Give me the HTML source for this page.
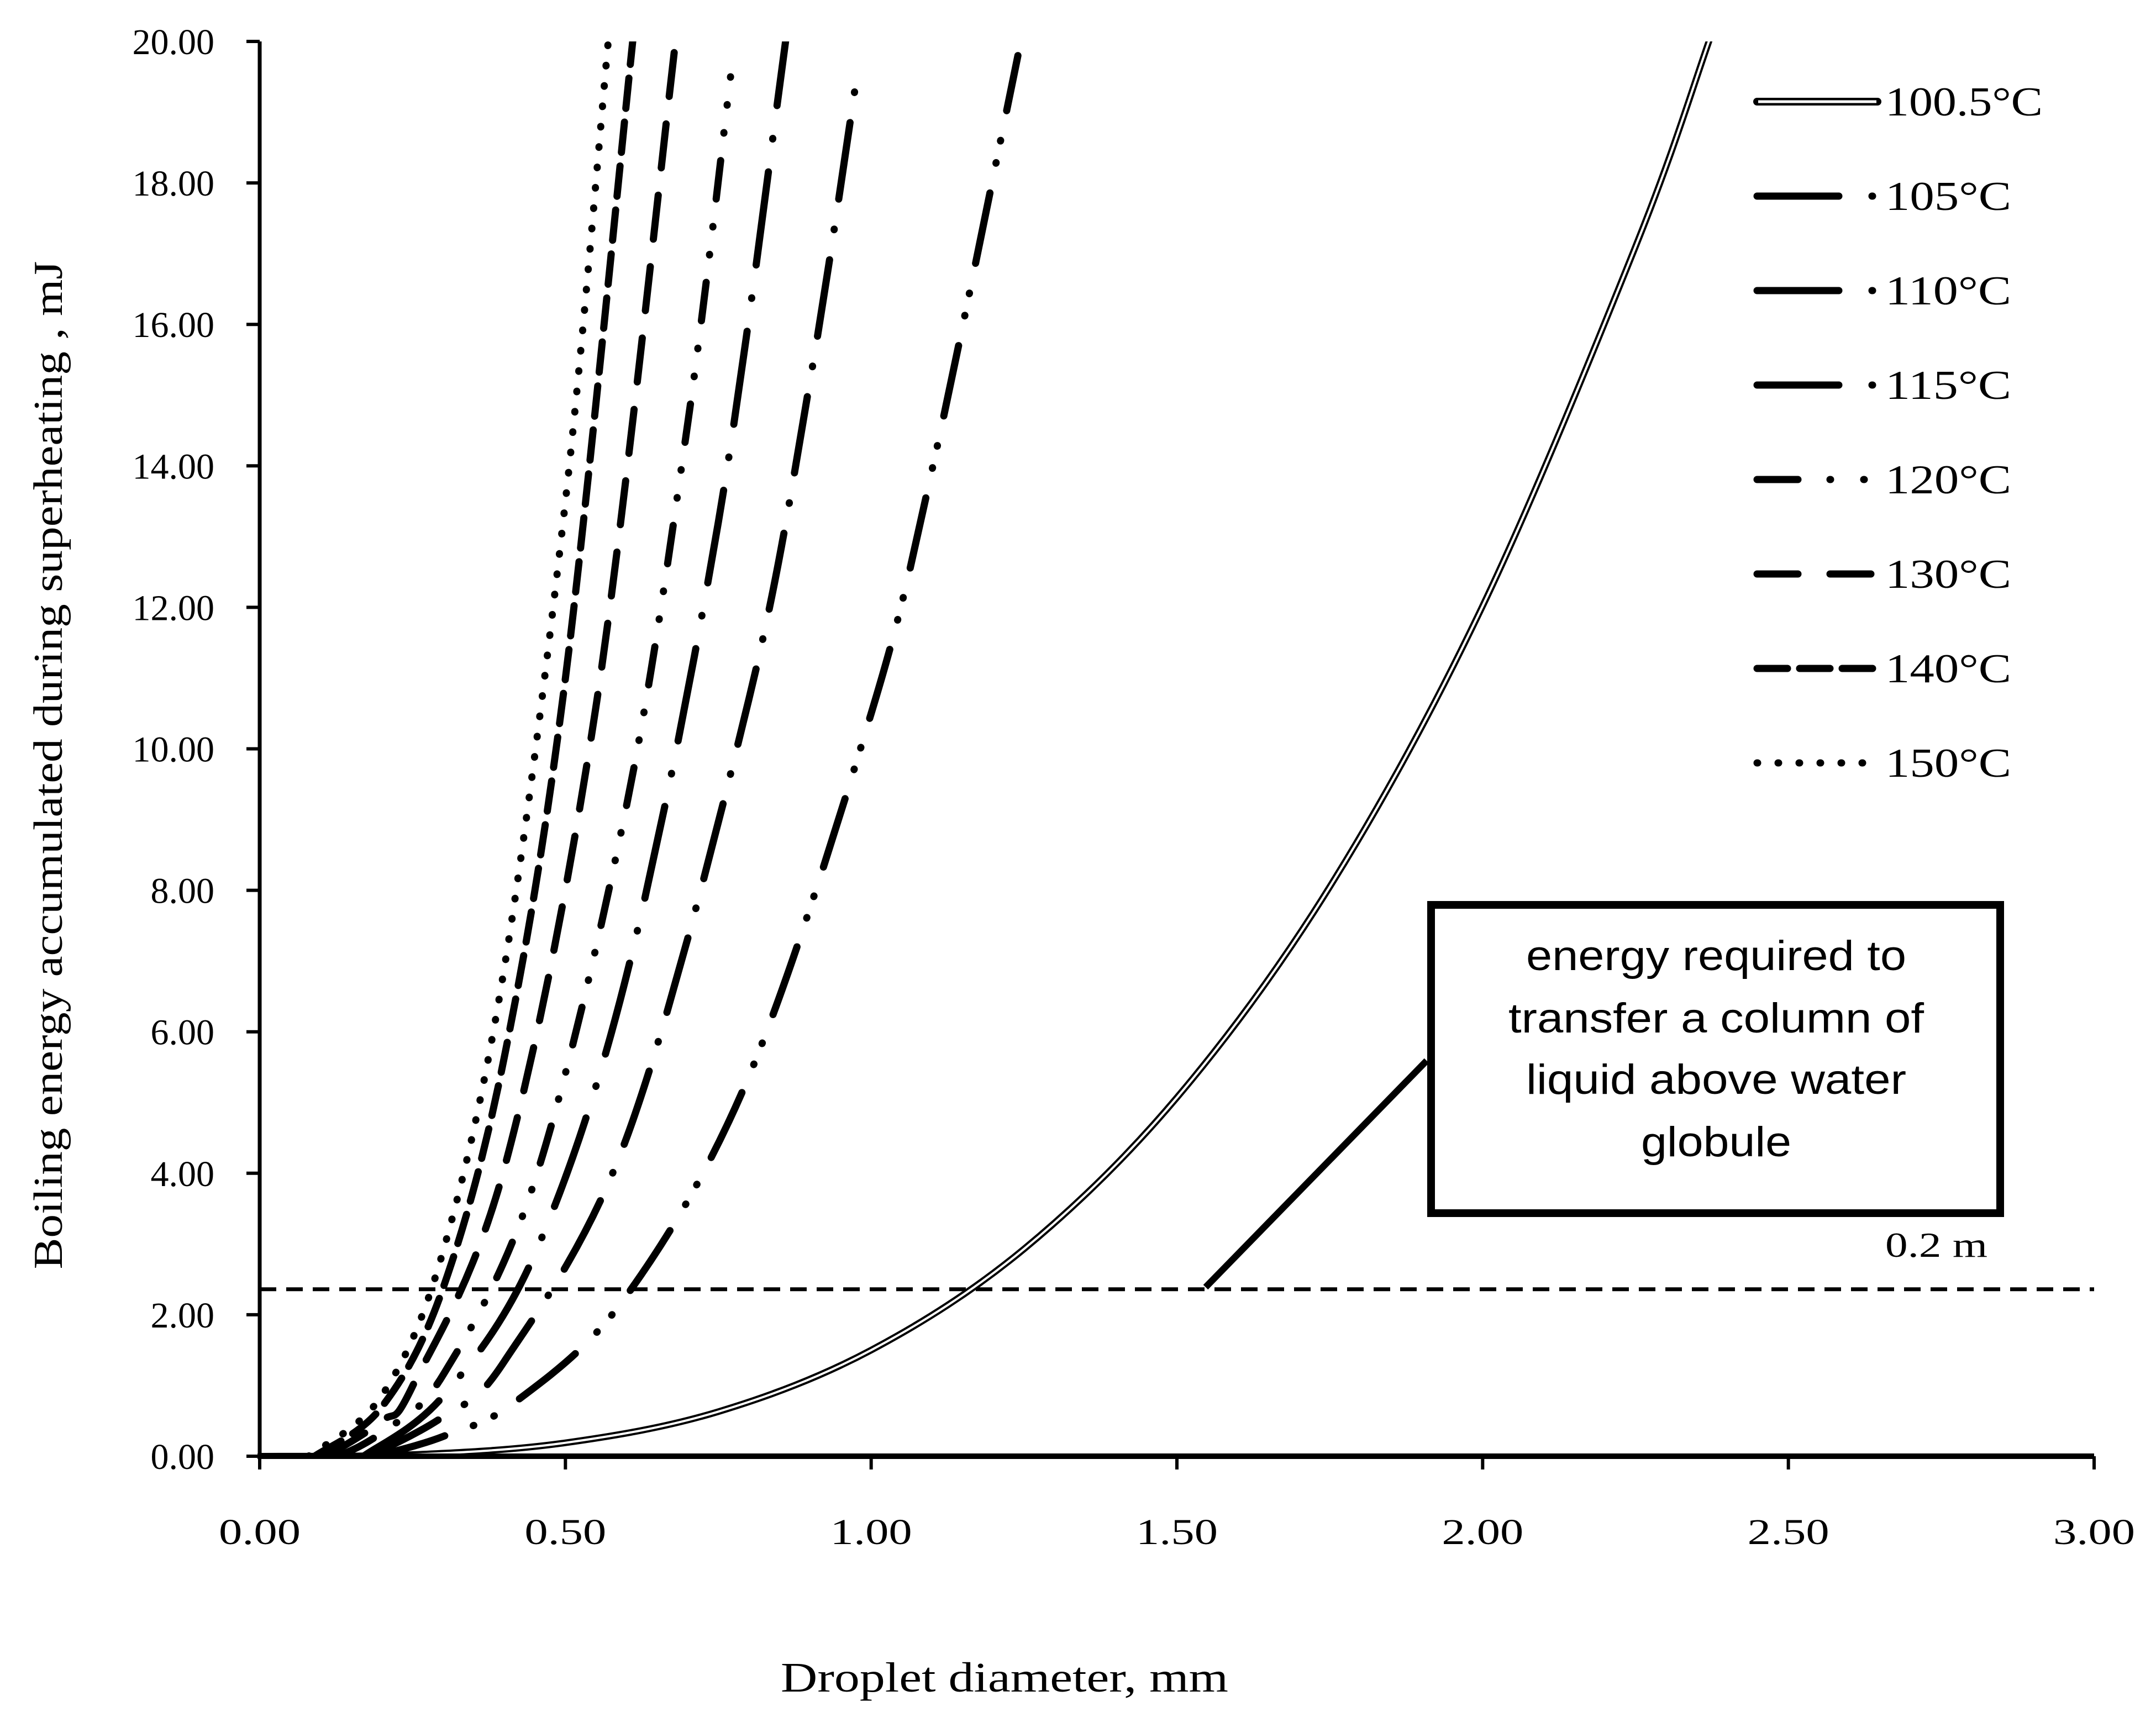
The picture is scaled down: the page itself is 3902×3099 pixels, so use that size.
<!DOCTYPE html>
<html><head><meta charset="utf-8"><style>
html,body{margin:0;padding:0;background:#fff}
svg{display:block}
text{font-family:"Liberation Serif",serif;fill:#000}
</style></head><body>
<svg id="chart" xmlns="http://www.w3.org/2000/svg" width="3902" height="3099" viewBox="0 0 3902 3099">
<defs><clipPath id="plotclip"><rect x="470" y="75" width="3322" height="2562"/></clipPath></defs>
<g id="curves" clip-path="url(#plotclip)"></g>
<g id="axes"></g>
<g id="legend"></g>
<g>
<line x1="2182" y1="2330" x2="2582" y2="1920" stroke="#000" stroke-width="12"/>
<rect x="2590" y="1638" width="1030" height="558" fill="#fff" stroke="#000" stroke-width="14"/>
<g font-size="76" text-anchor="middle">
<text x="3106" y="1756" textLength="688" lengthAdjust="spacingAndGlyphs" style="font-family:'Liberation Sans',sans-serif">energy required to</text>
<text x="3106" y="1869" textLength="752" lengthAdjust="spacingAndGlyphs" style="font-family:'Liberation Sans',sans-serif">transfer a column of</text>
<text x="3106" y="1980" textLength="688" lengthAdjust="spacingAndGlyphs" style="font-family:'Liberation Sans',sans-serif">liquid above water</text>
<text x="3106" y="2093" textLength="272" lengthAdjust="spacingAndGlyphs" style="font-family:'Liberation Sans',sans-serif">globule</text>
</g>
<text x="3412" y="2275" font-size="64" textLength="185" lengthAdjust="spacingAndGlyphs">0.2 m</text>
</g>
<text x="1818" y="3062" font-size="76" text-anchor="middle" textLength="810" lengthAdjust="spacingAndGlyphs">Droplet diameter, mm</text>
<text transform="translate(112,1385) rotate(-90)" font-size="74" text-anchor="middle" textLength="1825" lengthAdjust="spacingAndGlyphs">Boiling energy accumulated during superheating , mJ</text>
</svg>
<script>
const xTicks=[0,0.5,1,1.5,2,2.5,3];
const yTicks=[0,2,4,6,8,10,12,14,16,18,20];
const refEnergy=2.36;
const seriesNames=["100.5°C","105°C","110°C","115°C","120°C","130°C","140°C","150°C"];
const d1005=[0,0.25,0.5,0.75,1.0,1.25,1.5,1.75,2.0,2.25,2.37,2.45];
const e1005=[0,0.023,0.19,0.63,1.50,2.93,5.07,8.05,12.02,17.1,20,22.1];
const d105=[0.19,0.3,0.42,0.6,0.8,1.0,1.1,1.24];
const e105=[0.0,0.28,0.78,2.27,5.37,10.5,13.96,19.8];
const d110=[0.18,0.3,0.4,0.6,0.8,0.9,0.98];
const e110=[0.0,0.56,1.34,4.5,10.7,15.2,19.7];
const d115=[0.17,0.3,0.45,0.6,0.75,0.86];
const e115=[0.0,0.85,2.86,6.8,13.2,20];
const d120=[0.13,0.2,0.3,0.45,0.6,0.7,0.77];
const e120=[0.0,0.34,1.15,3.9,9.2,14.6,19.5];
const d130=[0.11,0.2,0.25,0.4,0.55,0.68];
const e130=[0.0,0.5,0.99,4.07,10.6,20];
const d140=[0.09,0.2,0.3,0.4,0.5,0.61];
const e140=[0.0,0.7,2.38,5.64,11.0,20];
const d150=[0.08,0.2,0.3,0.4,0.5,0.57];
const e150=[0.0,0.86,2.9,6.9,13.5,20];

const X0=470,X1=3790,Y0=2636,Y1=75;
const sx=v=>X0+(X1-X0)*v/3;
const sy=v=>Y0-(Y0-Y1)*v/20;
const NS="http://www.w3.org/2000/svg";
function mk(tag,attrs,parent){const el=document.createElementNS(NS,tag);for(const k in attrs)el.setAttribute(k,attrs[k]);parent.appendChild(el);return el;}
const curves=document.getElementById('curves'),axes=document.getElementById('axes'),legend=document.getElementById('legend');
document.querySelector('#plotclip rect').setAttribute('width',X1-X0+4);
document.querySelector('#plotclip rect').setAttribute('height',Y0-Y1+2);
function smooth(ds,es){
  const p=ds.map((d,i)=>[sx(d),sy(es[i])]);
  let s="M"+p[0][0]+","+p[0][1];
  for(let i=0;i<p.length-1;i++){
    const a=p[Math.max(0,i-1)],b=p[i],c=p[i+1],d=p[Math.min(p.length-1,i+2)];
    s+=" C"+(b[0]+(c[0]-a[0])/6)+","+(b[1]+(c[1]-a[1])/6)+" "+(c[0]-(d[0]-b[0])/6)+","+(c[1]-(d[1]-b[1])/6)+" "+c[0]+","+c[1];
  }
  return s;
}
const allD=[d1005,d105,d110,d115,d120,d130,d140,d150];
const allE=[e1005,e105,e110,e115,e120,e130,e140,e150];
const dashes=[null,"130 55 1 40 1 55","140 55 1 55","170 60 1 60","70 50 1 50 1 50","80 50","55 25","1 36"];
const ref=mk('line',{x1:X0,x2:X1,y1:sy(refEnergy),y2:sy(refEnergy),stroke:'#000','stroke-width':7,'stroke-dasharray':'30 18'},curves);


for(let i=0;i<allD.length;i++){
  const dpath=smooth(allD[i],allE[i]);
  if(i===0){
    const o=mk('path',{d:dpath,fill:'none',stroke:'#000','stroke-width':12},curves);
    
    
    const w=mk('path',{d:dpath,fill:'none',stroke:'#fff','stroke-width':4},curves);
    
    
  } else {
    const p=mk('path',{d:dpath,fill:'none',stroke:'#000','stroke-width':13,'stroke-linecap':'round','stroke-dasharray':dashes[i]},curves);
    
    
  }
}
const ya=mk('line',{x1:X0,x2:X0,y1:Y1,y2:Y0,stroke:'#000','stroke-width':7},axes);


const xa=mk('line',{x1:X0-4,x2:X1,y1:Y0,y2:Y0,stroke:'#000','stroke-width':10},axes);


xTicks.forEach(v=>{
  const t=mk('line',{x1:sx(v),x2:sx(v),y1:Y0,y2:Y0+24,stroke:'#000','stroke-width':6},axes);
  
  
  const l=mk('text',{x:sx(v),y:2795,'font-size':66,'text-anchor':'middle',textLength:148,lengthAdjust:'spacingAndGlyphs'},axes);
  l.textContent=v.toFixed(2);
  
  
});
yTicks.forEach(v=>{
  const l=mk('text',{x:388,y:sy(v)+23,'font-size':66,'text-anchor':'end'},axes);
  l.textContent=v.toFixed(2);
  
  
  const t=mk('line',{x1:X0-24,x2:X0,y1:sy(v),y2:sy(v),stroke:'#000','stroke-width':6},axes);
  
  
});
const legDash=[null,"148 60 1 60","148 60 1 60","148 60 1 60","74 58 1 60 1 60","74 58","55 22","1 37"];
seriesNames.forEach((n,i)=>{
  const y=184+i*171;
  if(i===0){
    const o=mk('line',{x1:3180,x2:3398,y1:y,y2:y,stroke:'#000','stroke-width':14,'stroke-linecap':'round'},legend);
    
    
    const w=mk('line',{x1:3182,x2:3396,y1:y,y2:y,stroke:'#fff','stroke-width':5},legend);
    
    
  } else {
    const s=mk('line',{x1:3180,x2:3398,y1:y,y2:y,stroke:'#000','stroke-width':13,'stroke-linecap':'round','stroke-dasharray':legDash[i]},legend);
    
    
  }
  const t=mk('text',{x:3412,y:y+25,'font-size':74,textLength:(i===0?285:228),lengthAdjust:'spacingAndGlyphs'},legend);
  t.textContent=n;
  
  
});
</script>
</body></html>
